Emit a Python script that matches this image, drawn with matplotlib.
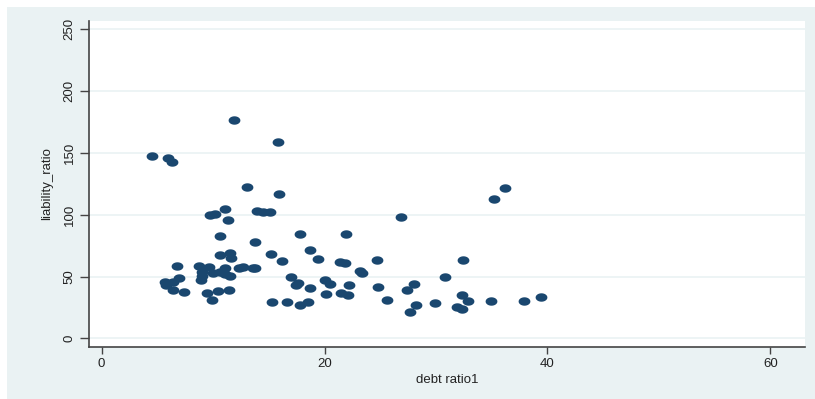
#!/usr/bin/python3

import numpy as np
import matplotlib.pyplot as plt
from matplotlib.path import Path
from matplotlib.patches import Rectangle

# values
debt_ratio1 = [4.5, 6.0, 6.3, 11.9, 15.8, 13.0, 15.9, 9.7, 10.2, 11.1, 11.3, 13.9, 14.5, 15.1,
               10.6, 13.8, 17.8, 21.9, 26.9, 35.2, 36.2,
               10.6, 11.5, 11.6, 15.2, 16.2, 18.7, 19.4, 21.4, 21.8, 24.7, 32.4,
               6.8, 8.7, 9.6, 12.3, 12.7, 13.6, 13.8, 9.0, 9.0, 8.9, 10.0, 10.6, 11.1, 11.5, 11.1,
               5.7, 5.8, 6.4, 6.9, 6.4, 7.4, 9.5, 9.9, 10.4, 11.4,
               17.0, 17.4, 17.6, 18.7, 20.0, 20.5, 20.1, 21.5, 22.1, 22.2, 23.2, 23.4, 24.8,
               30.8, 28.0, 27.4,
               15.3, 16.6, 17.8, 18.5, 25.6, 27.7, 28.2, 29.9, 32.3, 32.9, 31.9, 32.3, 34.9, 37.9, 39.4]
liability_ratio = [147.5, 145.6, 142.4, 176.6, 159.0, 122.7, 116.5, 99.8, 100.3, 104.6, 95.7, 103.2, 101.9, 101.9,
                   82.8, 78.2, 84.1, 84.7, 98.4, 112.6, 121.7,
                   67.4, 69.3, 64.7, 68.0, 62.5, 71.4, 64.5, 62.0, 61.2, 63.3, 63.1,
                   58.5, 58.7, 57.9, 56.6, 57.9, 57.1, 56.9, 53.9, 50.6, 47.2, 52.6, 53.9, 56.6, 50.4, 52.2,
                   45.3, 43.1, 45.8, 49.0, 39.0, 37.2, 37.0, 31.2, 38.7, 39.0,
                   49.8, 43.2, 45.0, 40.7, 47.2, 43.7, 36.0, 36.4, 35.0, 43.0, 54.7, 53.1, 41.3,
                   49.6, 44.2, 39.1,
                   29.3, 29.1, 26.8, 29.0, 31.0, 21.5, 27.2, 28.8, 34.8, 30.4, 25.6, 23.5, 30.4, 30.4, 33.7]
x_ticks = [0, 20, 40, 60]
y_ticks = [0, 50, 100, 150, 200, 250]

bg = "#EAF2F3"
navy = "#1A476F"

plt.rcParams['font.family'] = ['Liberation Sans', 'DejaVu Sans']

fig = plt.figure(figsize=(8.15, 3.99), dpi=100, facecolor="white")
fig.add_artist(Rectangle((7/815, 0), 1 - 7/815, 1 - 7/399, transform=fig.transFigure,
                         facecolor=bg, edgecolor="none", zorder=-10))

ax = fig.add_axes([89/815, 52/399, 716/815, 326/399])
ax.set_facecolor("white")

# stata style markers are a bit wider than tall
t = np.linspace(0, 2*np.pi, 40)
ellipse = Path(np.column_stack([1.4*np.cos(t), np.sin(t)]), closed=True)
ax.scatter(debt_ratio1, liability_ratio, marker=ellipse, s=72, color=navy, linewidths=0, zorder=3)

ax.set_xlim(-1.13, 63.1)
ax.set_ylim(-7, 256.7)
ax.set_xticks(x_ticks)
ax.set_yticks(y_ticks)
ax.set_xticklabels([str(v) for v in x_ticks], fontsize=9.5, color="#222222")
ax.set_yticklabels([str(v) for v in y_ticks], fontsize=9.5, color="#222222",
                   rotation=90, va="center")
ax.tick_params(axis="x", length=5, width=1, color="#444444", pad=3)
ax.tick_params(axis="y", length=6.5, width=1, color="#444444", pad=3)

ax.grid(axis="y", color=bg, linewidth=1.2, zorder=1)
ax.set_axisbelow(True)

for s in ["top", "right"]:
    ax.spines[s].set_visible(False)
for s in ["left", "bottom"]:
    ax.spines[s].set_color("#444444")
    ax.spines[s].set_linewidth(1.2)

ax.set_xlabel("debt ratio1", fontsize=9.5, color="#222222", labelpad=3)
ax.set_ylabel("liability_ratio", fontsize=9.5, color="#222222", labelpad=8)

plt.savefig("out.png", dpi=100)
